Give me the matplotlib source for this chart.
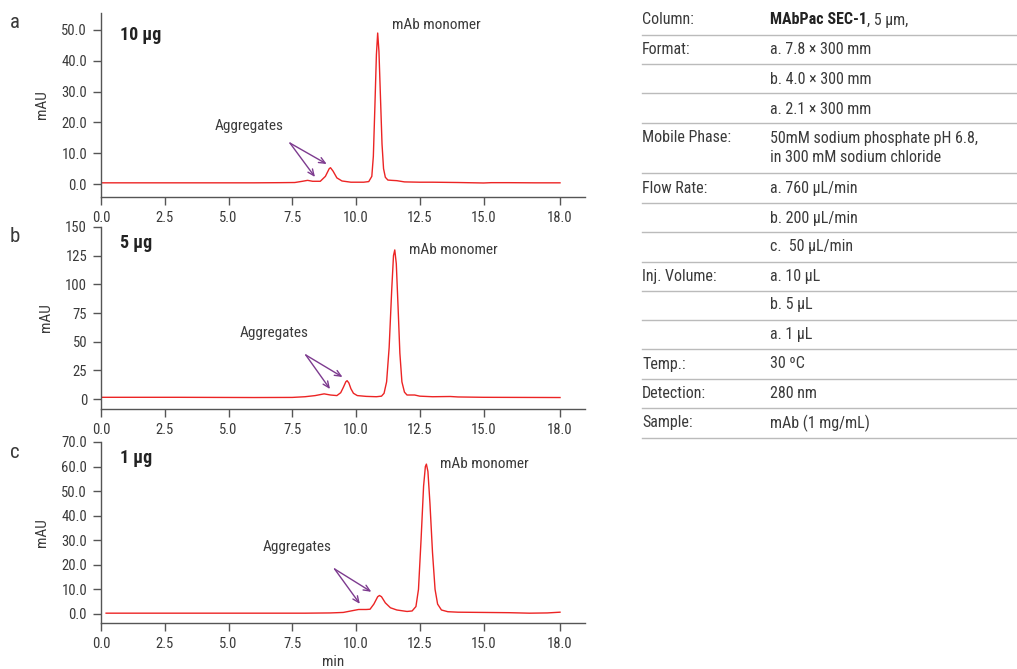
import matplotlib
matplotlib.use("Agg")
import matplotlib.pyplot as plt
from matplotlib.lines import Line2D

plt.rcParams['font.family'] = ['Roboto Condensed', 'Liberation Sans Narrow', 'Roboto', 'DejaVu Sans']

W, H = 1017, 669

# chromatogram a, 10 ug
time_a = [0.0, 2.0, 4.0, 6.0, 7.0, 7.6, 7.9, 8.1, 8.3, 8.6, 8.8, 8.95, 9.0, 9.1, 9.25,
          9.45, 9.8, 10.3, 10.5, 10.62, 10.68, 10.74, 10.8, 10.85, 10.9, 10.96, 11.02,
          11.08, 11.15, 11.25, 11.4, 11.6, 11.9, 12.5, 13.0, 14.0, 15.0, 15.3, 16.0, 17.0, 18.0]
mau_a = [0.4, 0.4, 0.4, 0.4, 0.45, 0.5, 0.9, 1.2, 0.9, 0.9, 2.5, 5.0, 5.3, 4.2, 2.0,
         1.0, 0.6, 0.6, 0.8, 2.5, 9.0, 25.0, 42.0, 49.0, 43.0, 28.0, 13.0,
         5.0, 2.2, 1.3, 1.2, 1.1, 0.7, 0.6, 0.6, 0.5, 0.35, 0.45, 0.45, 0.4, 0.4]

# chromatogram b, 5 ug
time_b = [0.0, 3.0, 6.0, 7.5, 8.0, 8.4, 8.75, 9.0, 9.25, 9.4, 9.5, 9.6, 9.65, 9.72, 9.8,
          9.9, 10.05, 10.4, 10.8, 11.0, 11.1, 11.2, 11.3, 11.4, 11.47, 11.52, 11.58,
          11.65, 11.72, 11.8, 11.9, 12.0, 12.3, 12.5, 13.0, 13.7, 14.0, 15.0, 18.0]
mau_b = [1.5, 1.5, 1.3, 1.4, 2.0, 3.0, 4.5, 3.5, 3.0, 5.5, 10.0, 15.0, 16.0, 14.0, 9.0,
         5.0, 3.0, 2.3, 2.0, 2.5, 5.0, 15.0, 45.0, 95.0, 125.0, 130.0, 118.0,
         80.0, 40.0, 15.0, 6.0, 3.5, 3.5, 2.5, 2.0, 2.2, 1.8, 1.5, 1.3]

# chromatogram c, 1 ug
time_c = [0.2, 3.0, 6.0, 8.0, 9.0, 9.5, 9.8, 10.1, 10.4, 10.55, 10.7, 10.85, 10.92, 11.0,
          11.15, 11.35, 11.6, 12.0, 12.2, 12.35, 12.45, 12.55, 12.65, 12.72, 12.76, 12.82,
          12.9, 13.0, 13.1, 13.2, 13.35, 13.6, 14.0, 15.0, 16.0, 16.8, 17.5, 18.0]
mau_c = [0.3, 0.3, 0.3, 0.3, 0.4, 0.6, 1.2, 1.8, 1.8, 1.9, 4.0, 7.0, 7.5, 7.0,
         4.5, 2.5, 1.6, 1.0, 1.2, 3.0, 10.0, 30.0, 52.0, 60.0, 61.0, 58.0,
         45.0, 25.0, 10.0, 4.0, 1.6, 0.9, 0.7, 0.6, 0.5, 0.3, 0.4, 0.7]

x_ticks = [0.0, 2.5, 5.0, 7.5, 10.0, 12.5, 15.0, 18.0]

table_rows = [
    ("Column:", None),
    ("Format:", "a. 7.8 \u00d7 300 mm"),
    ("", "b. 4.0 \u00d7 300 mm"),
    ("", "a. 2.1 \u00d7 300 mm"),
    ("Mobile Phase:", "50mM sodium phosphate pH 6.8,\nin 300 mM sodium chloride"),
    ("Flow Rate:", "a. 760 \u00b5L/min"),
    ("", "b. 200 \u00b5L/min"),
    ("", "c.  50 \u00b5L/min"),
    ("Inj. Volume:", "a. 10 \u00b5L"),
    ("", "b. 5 \u00b5L"),
    ("", "a. 1 \u00b5L"),
    ("Temp.:", "30 \u00baC"),
    ("Detection:", "280 nm"),
    ("Sample:", "mAb (1 mg/mL)"),
]

fig = plt.figure(figsize=(W / 100, H / 100), dpi=100)

grey = '#555555'
txt = '#3a3a3a'
purple = '#7d3b8f'


def px_axes(l, t, r, b):
    return fig.add_axes([l / W, 1 - b / H, (r - l) / W, (b - t) / H])


panels = [
    dict(t=13, b=197, x=time_a, y=mau_a, ylim=(-4.2, 55.5), yt=[0, 10, 20, 30, 40, 50],
         fmt='{:.1f}', letter='a', amt='10 \u00b5g', amt_y=48.5,
         agg=(5.79, 18.8), src=(7.41, 13.3), ends=[(8.39, 2.3), (8.85, 6.5)],
         mono=(11.4, 51.6)),
    dict(t=227, b=409, x=time_b, y=mau_b, ylim=(-8.7, 150), yt=[0, 25, 50, 75, 100, 125, 150],
         fmt='{:.0f}', letter='b', amt='5 \u00b5g', amt_y=136,
         agg=(6.78, 57.5), src=(8.03, 38.4), ends=[(8.98, 8.7), (9.47, 19.2)],
         mono=(12.07, 130)),
    dict(t=442, b=623, x=time_c, y=mau_c, ylim=(-3.7, 70), yt=[0, 10, 20, 30, 40, 50, 60, 70],
         fmt='{:.1f}', letter='c', amt='1 \u00b5g', amt_y=63.5,
         agg=(7.68, 27.3), src=(9.16, 18.3), ends=[(10.15, 4.1), (10.6, 9.0)],
         mono=(13.3, 61)),
]

for p in panels:
    ax = px_axes(101, p['t'], 585, p['b'])
    ax.plot(p['x'], p['y'], color='#ec2424', lw=1.0)
    ax.set_xlim(0, 18.98)
    ax.set_ylim(*p['ylim'])
    ax.set_xticks(x_ticks)
    ax.set_xticklabels(['{:.1f}'.format(v) for v in x_ticks])
    ax.set_yticks(p['yt'])
    ax.set_yticklabels([p['fmt'].format(v) for v in p['yt']])
    for s in ['top', 'right']:
        ax.spines[s].set_visible(False)
    for s in ['left', 'bottom']:
        ax.spines[s].set_color(grey)
        ax.spines[s].set_linewidth(1.0)
    ax.tick_params(colors=grey, labelcolor=txt, labelsize=10.5, length=6, width=1,
                   direction='out', pad=4)
    ax.set_ylabel('mAU', color=txt, fontsize=11, labelpad=9)
    ax.text(0.75, p['amt_y'], p['amt'], fontsize=13, fontweight='bold', color='#222222',
            va='center', ha='left')
    ax.text(p['agg'][0], p['agg'][1], 'Aggregates', fontsize=11, color=txt,
            ha='center', va='center')
    ax.text(p['mono'][0], p['mono'][1], 'mAb monomer', fontsize=11, color=txt,
            ha='left', va='center')
    for e in p['ends']:
        ax.annotate('', xy=e, xytext=p['src'],
                    arrowprops=dict(arrowstyle='->,head_length=0.45,head_width=0.2',
                                    color=purple, lw=1.0, shrinkA=0, shrinkB=0))
    fig.text(15 / W, 1 - (p['t'] + 10) / H, p['letter'], fontsize=15, color=txt,
             ha='center', va='center')

fig.text(333 / W, 1 - 662 / H, 'min', fontsize=11, color=txt, ha='center', va='center')

# parameter table on the right
row_centres = [20, 50, 79, 109, 138, 189, 218, 247, 276, 305, 335, 364, 393, 423]
row_lines = [35, 64, 93, 123, 173, 203, 232, 262, 291, 320, 349, 379, 408, 438]
for y in row_lines:
    fig.add_artist(Line2D([642 / W, 1.0], [1 - y / H, 1 - y / H], color='#bbbbbb', lw=1.0))

for (label, value), yc in zip(table_rows, row_centres):
    fy = 1 - yc / H
    if label:
        fig.text(642 / W, fy, label, fontsize=11.5, color=txt, va='center', ha='left')
    if value is None:
        t1 = fig.text(770 / W, fy, 'MAbPac SEC-1', fontsize=11.5, color='#222222',
                      fontweight='bold', va='center', ha='left')
        fig.canvas.draw()
        bb = t1.get_window_extent()
        fig.text(bb.x1 / W, fy, ', 5 \u00b5m,', fontsize=11.5, color=txt, va='center', ha='left')
    else:
        for k, line in enumerate(value.split('\n')):
            fig.text(770 / W, 1 - (yc + 20 * k) / H, line, fontsize=11.5, color=txt,
                     va='center', ha='left')

fig.savefig('out.png', dpi=100)
